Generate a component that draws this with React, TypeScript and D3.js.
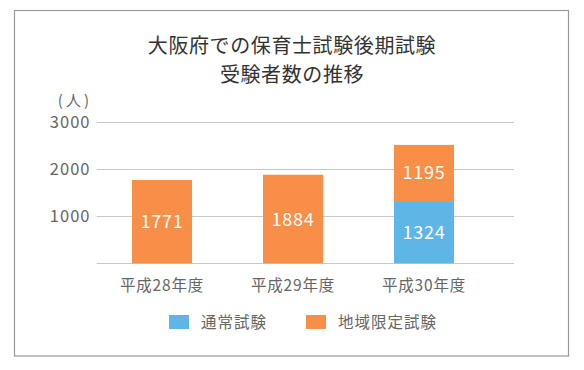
import React from "react";
import * as d3 from "d3";

const categories = ["平成28年度", "平成29年度", "平成30年度"];
const normalExam = [0, 0, 1324];
const regionalExam = [1771, 1884, 1195];
const seriesNames = ["通常試験", "地域限定試験"];
const yTicks = [1000, 2000, 3000];
const titleLines = ["大阪府での保育士試験後期試験", "受験者数の推移"];
const unitLabel = "(人)";

const colors = ["#5fb5e6", "#f78f48"];
const FONT = "'Noto Sans CJK JP', 'Noto Sans', sans-serif";

export default function App() {
  const W = 584, H = 370;
  const y = d3.scaleLinear().domain([0, 3000]).range([263.3, 122.3]);
  const x = d3.scaleBand().domain(categories).range([96.5, 489.5]).paddingInner(0.542).paddingOuter(0.271);
  const gridX1 = 96.7, gridX2 = 514;

  const stacked = d3.stack<any>().keys(["normal", "regional"])(
    categories.map((c, i) => ({ cat: c, normal: normalExam[i], regional: regionalExam[i] }))
  );

  return (
    <svg width={W} height={H} style={{ position: "absolute", left: 0, top: 0, background: "#fff" }} fontFamily={FONT}>
      <rect x={14.5} y={10.5} width={554} height={345.5} fill="#fff" stroke="#999" strokeWidth={1.2} />
      {titleLines.map((t, i) => (
        <text key={i} x={292} y={53 + i * 29} textAnchor="middle" fontSize={20} fill="#333" letterSpacing={0.6}>{t}</text>
      ))}
      <text x={92} y={106} textAnchor="end" fontSize={15} fill="#666" letterSpacing={3}>{unitLabel}</text>
      {[0, ...yTicks].map((v) => (
        <line key={v} x1={gridX1} x2={gridX2} y1={Math.round(y(v)) + 0.5} y2={Math.round(y(v)) + 0.5} stroke="#c8c8c8" strokeWidth={1} />
      ))}
      {yTicks.map((v) => (
        <text key={"t" + v} x={90.5} y={y(v)} dy="0.36em" textAnchor="end" fontSize={16.5} fill="#666" letterSpacing={1}>{v}</text>
      ))}
      {stacked.map((s, si) => (
        <g key={si}>
          {s.map((d, i) => {
            const h = y(d[0]) - y(d[1]);
            if (h <= 0) return null;
            const bx = x(categories[i])!;
            return (
              <g key={i}>
                <rect x={bx} y={y(d[1])} width={x.bandwidth()} height={h} fill={colors[si]} />
                <text x={bx + x.bandwidth() / 2} y={(y(d[0]) + y(d[1])) / 2} dy="0.36em" textAnchor="middle" fontSize={18} fill="#fff" letterSpacing={0.8}>
                  {d[1] - d[0]}
                </text>
              </g>
            );
          })}
        </g>
      ))}
      {categories.map((c) => (
        <text key={c} x={x(c)! + x.bandwidth() / 2} y={285} dy="0.36em" textAnchor="middle" fontSize={15.5} fill="#666" letterSpacing={0.8}>{c}</text>
      ))}
      {seriesNames.map((n, i) => {
        const lx = i === 0 ? 169 : 306;
        return (
          <g key={n}>
            <rect x={lx} y={315} width={20} height={14} fill={colors[i]} />
            <text x={lx + 32} y={322} dy="0.36em" fontSize={15.5} fill="#666" letterSpacing={1}>{n}</text>
          </g>
        );
      })}
    </svg>
  );
}
